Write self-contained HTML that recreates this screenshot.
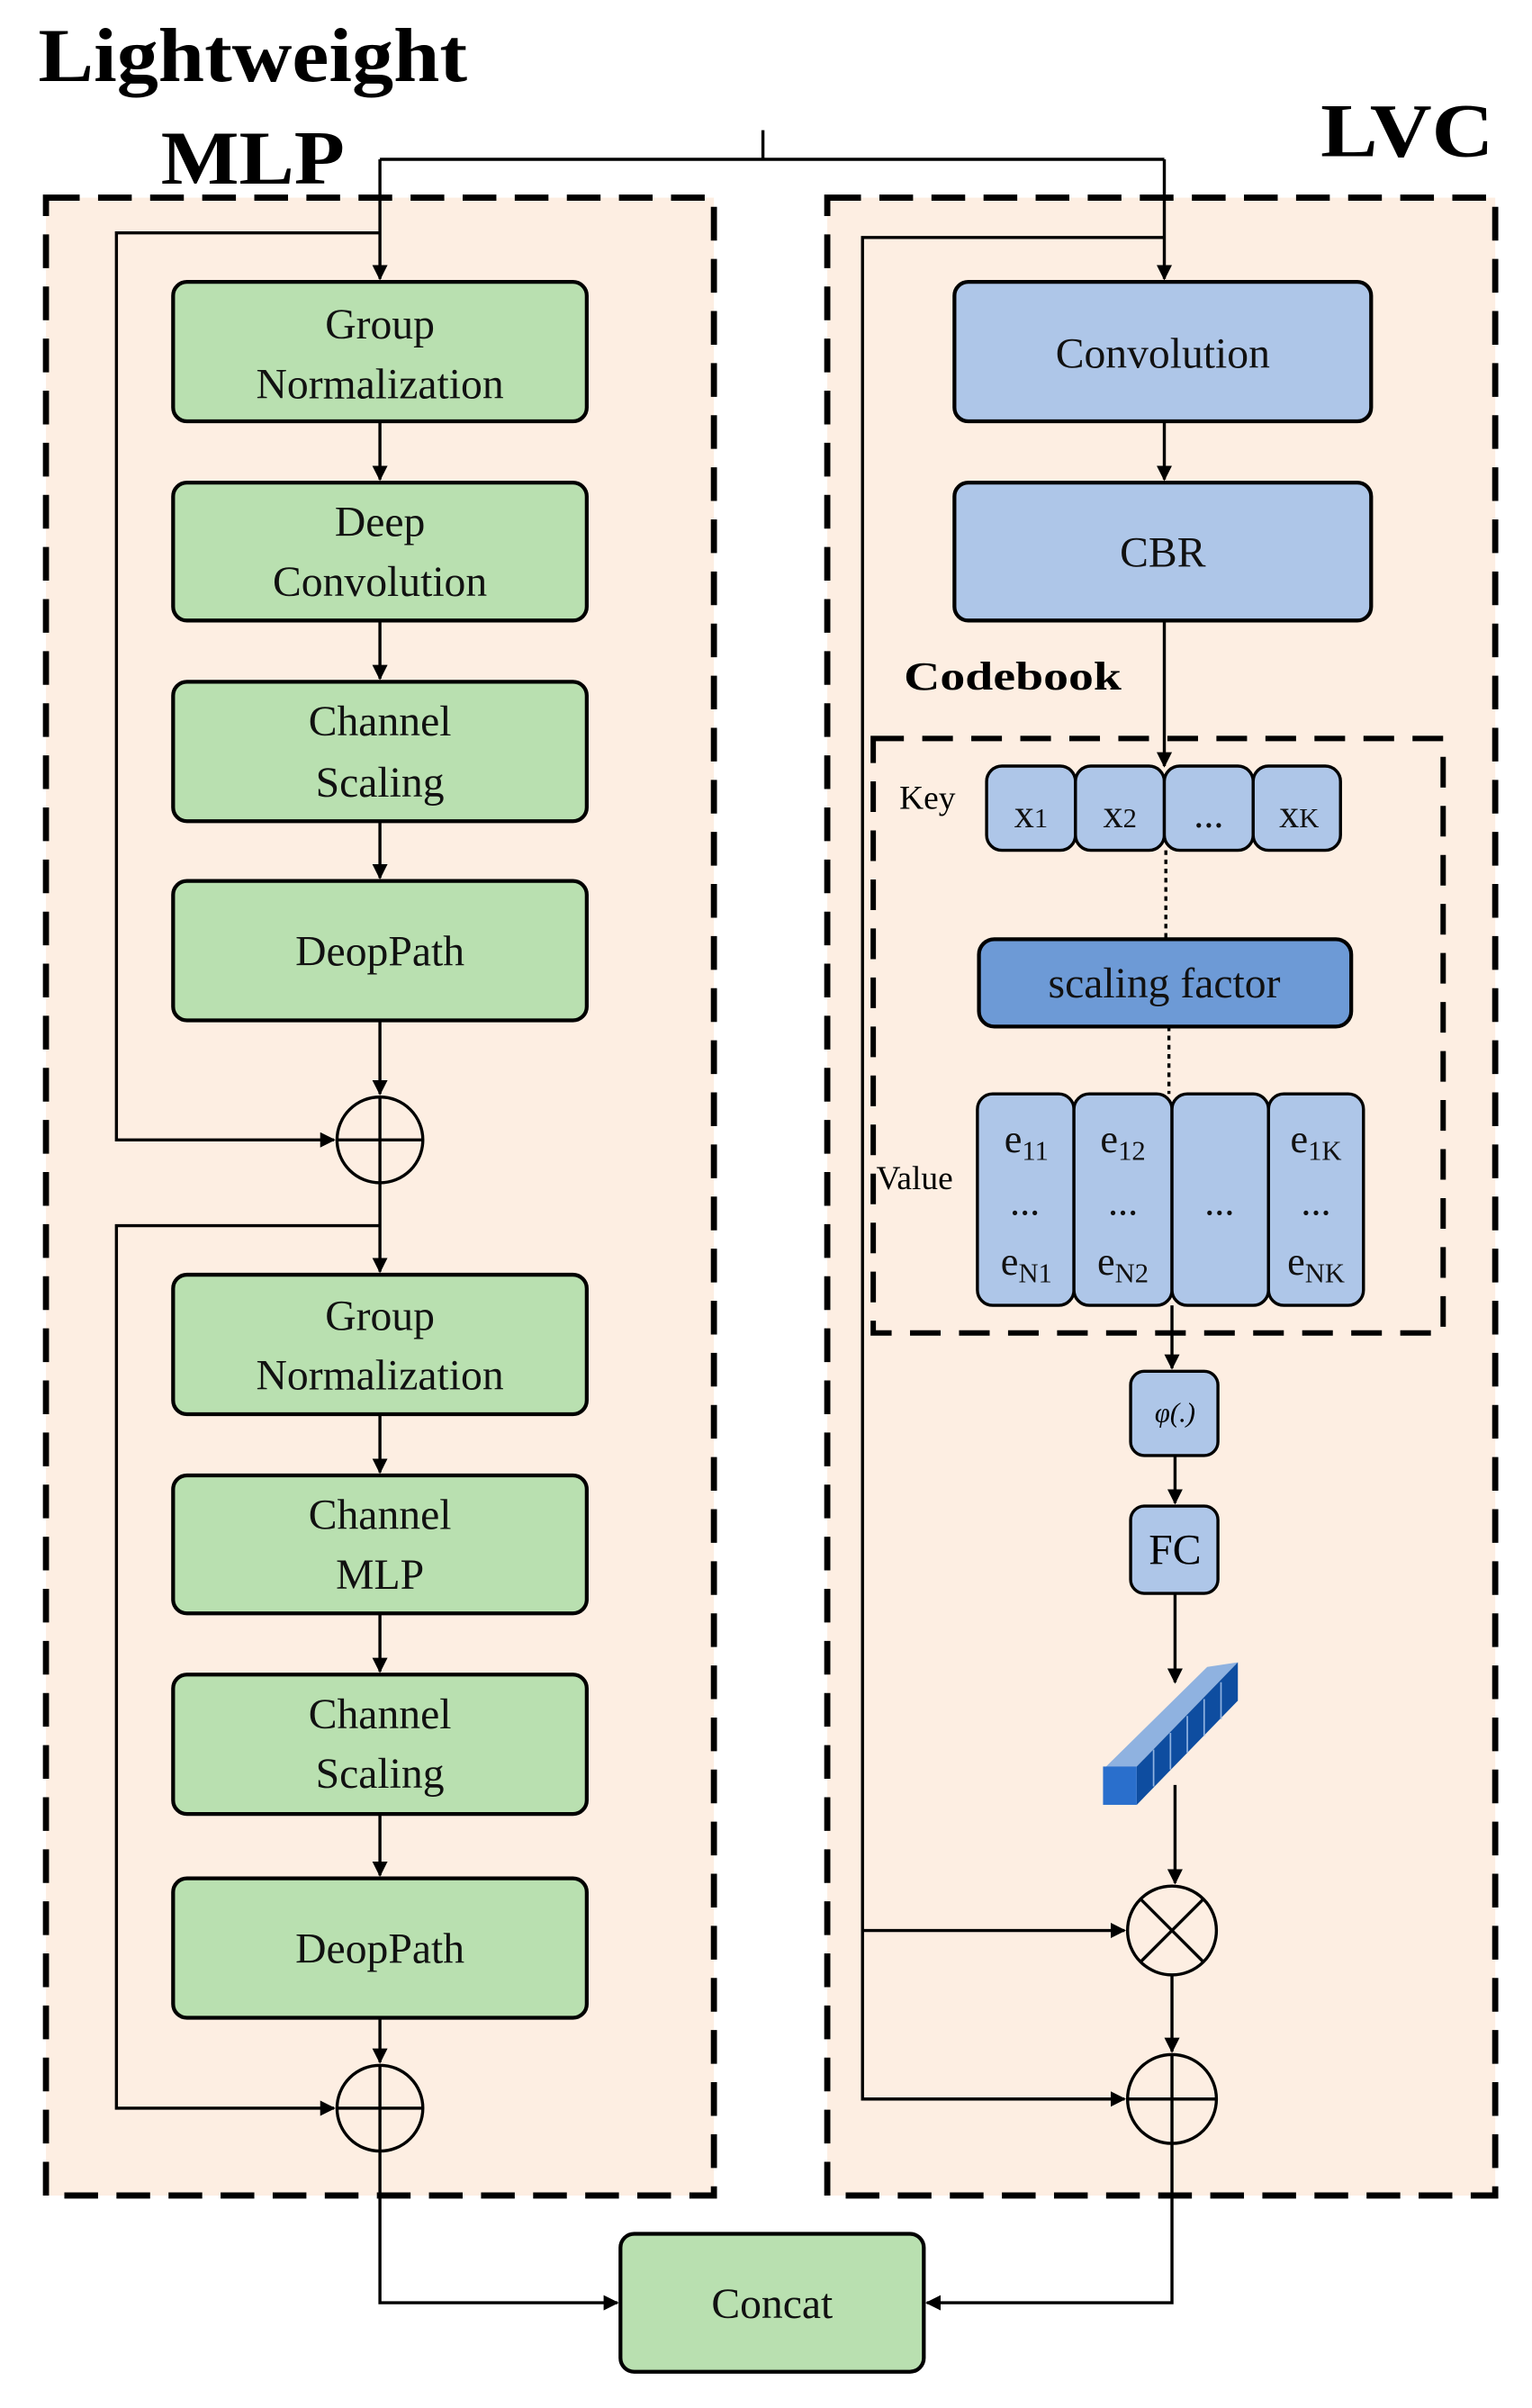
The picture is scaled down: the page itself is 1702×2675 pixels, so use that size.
<!DOCTYPE html>
<html><head><meta charset="utf-8"><style>html,body{margin:0;padding:0;background:#fff}svg{display:block}</style></head>
<body>
<svg width="1702" height="2675" viewBox="0 0 1000 1571.68" xmlns="http://www.w3.org/2000/svg" font-family="'Liberation Serif', serif">
<defs>
<marker id="a" markerWidth="10" markerHeight="10" refX="9" refY="5" orient="auto" markerUnits="userSpaceOnUse"><path d="M0,0 L10,5 L0,10 z" fill="#000"/></marker>
</defs>
<text x="25" y="53" font-size="50" font-weight="bold" textLength="280" lengthAdjust="spacingAndGlyphs">Lightweight</text>
<text x="105" y="120" font-size="50" font-weight="bold" textLength="120" lengthAdjust="spacingAndGlyphs">MLP</text>
<text x="862" y="102" font-size="50" font-weight="bold" textLength="113" lengthAdjust="spacingAndGlyphs">LVC</text>
<rect x="30" y="129" width="436" height="1304" fill="#fdeee2" stroke="#000" stroke-width="4" stroke-dasharray="22,12"/>
<rect x="540" y="129" width="436" height="1304" fill="#fdeee2" stroke="#000" stroke-width="4" stroke-dasharray="22,12"/>
<g fill="none" stroke="#000" stroke-width="2">
<path d="M498,85 V104 M248,104 H760"/>
<path d="M248,104 V182" marker-end="url(#a)"/>
<path d="M760,104 V182" marker-end="url(#a)"/>
<path d="M248,152 H76 V744 H218" marker-end="url(#a)"/>
<path d="M248,800 H76 V1376 H218" marker-end="url(#a)"/>
<path d="M248,275 V313" marker-end="url(#a)"/>
<path d="M248,405 V443" marker-end="url(#a)"/>
<path d="M248,536 V573" marker-end="url(#a)"/>
<path d="M248,666 V714" marker-end="url(#a)"/>
<path d="M248,772 V830" marker-end="url(#a)"/>
<path d="M248,923 V961" marker-end="url(#a)"/>
<path d="M248,1053 V1091" marker-end="url(#a)"/>
<path d="M248,1184 V1224" marker-end="url(#a)"/>
<path d="M248,1317 V1346" marker-end="url(#a)"/>
<path d="M248,1404 V1503 H403" marker-end="url(#a)"/>
<path d="M765,1399 V1503 H605" marker-end="url(#a)"/>
<path d="M760,275 V313" marker-end="url(#a)"/>
<path d="M760,405 V500" marker-end="url(#a)"/>
<path d="M765,852 V893" marker-end="url(#a)"/>
<path d="M767,950 V981" marker-end="url(#a)"/>
<path d="M767,1040 V1098" marker-end="url(#a)"/>
<path d="M767,1165 V1229" marker-end="url(#a)"/>
<path d="M765,1289 V1339" marker-end="url(#a)"/>
<path d="M760,155 H563 V1370 H734" marker-end="url(#a)"/>
<path d="M563,1260 H734" marker-end="url(#a)"/>
</g>
<g stroke="#000" stroke-width="2.5" fill="#b9e0b0">
<rect x="113" y="184" width="270" height="91" rx="9"/>
<rect x="113" y="315" width="270" height="90" rx="9"/>
<rect x="113" y="445" width="270" height="91" rx="9"/>
<rect x="113" y="575" width="270" height="91" rx="9"/>
<rect x="113" y="832" width="270" height="91" rx="9"/>
<rect x="113" y="963" width="270" height="90" rx="9"/>
<rect x="113" y="1093" width="270" height="91" rx="9"/>
<rect x="113" y="1226" width="270" height="91" rx="9"/>
<rect x="405" y="1458" width="198" height="90" rx="9"/>
</g>
<g font-size="28" text-anchor="middle" fill="#111">
<text x="248" y="221">Group</text><text x="248" y="260">Normalization</text>
<text x="248" y="350">Deep</text><text x="248" y="389">Convolution</text>
<text x="248" y="480">Channel</text><text x="248" y="520">Scaling</text>
<text x="248" y="630">DeopPath</text>
<text x="248" y="868">Group</text><text x="248" y="907">Normalization</text>
<text x="248" y="998">Channel</text><text x="248" y="1037">MLP</text>
<text x="248" y="1128">Channel</text><text x="248" y="1167">Scaling</text>
<text x="248" y="1281">DeopPath</text>
<text x="504" y="1513">Concat</text>
</g>
<g fill="none" stroke="#000" stroke-width="2">
<circle cx="248" cy="744" r="28"/><path d="M220,744 H276 M248,716 V772"/>
<circle cx="248" cy="1376" r="28"/><path d="M220,1376 H276 M248,1348 V1404"/>
<circle cx="765" cy="1260" r="29"/><path d="M744,1239 L786,1281 M786,1239 L744,1281"/>
<circle cx="765" cy="1370" r="29"/><path d="M736,1370 H794 M765,1341 V1399"/>
</g>
<g stroke="#000" stroke-width="2.5" fill="#aec6e8">
<rect x="623" y="184" width="272" height="91" rx="9"/>
<rect x="623" y="315" width="272" height="90" rx="9"/>
</g>
<g font-size="28" text-anchor="middle" fill="#111">
<text x="759" y="240">Convolution</text><text x="759" y="370">CBR</text>
</g>
<text x="590" y="450" font-size="26" font-weight="bold" textLength="142" lengthAdjust="spacingAndGlyphs">Codebook</text>
<rect x="570" y="482" width="372" height="388" fill="none" stroke="#000" stroke-width="3.5" stroke-dasharray="20,12"/>
<text x="587" y="528" font-size="22">Key</text>
<text x="572" y="776" font-size="22">Value</text>
<g stroke="#000" stroke-width="2" fill="#aec6e8">
<rect x="644" y="500" width="58" height="55" rx="10"/>
<rect x="702" y="500" width="58" height="55" rx="10"/>
<rect x="760" y="500" width="58" height="55" rx="10"/>
<rect x="818" y="500" width="57" height="55" rx="10"/>
<rect x="638" y="714" width="63" height="138" rx="10"/>
<rect x="701" y="714" width="64" height="138" rx="10"/>
<rect x="765" y="714" width="63" height="138" rx="10"/>
<rect x="828" y="714" width="62" height="138" rx="10"/>
</g>
<rect x="639" y="613" width="243" height="57" rx="10" fill="#6d9ad6" stroke="#000" stroke-width="2.5"/>
<text x="760" y="651" font-size="28" text-anchor="middle" fill="#111">scaling factor</text>
<path d="M761,555 V613 M763,670 V714" stroke="#000" stroke-width="2" stroke-dasharray="3,3"/>
<g font-size="26" fill="#111" text-anchor="middle">
<text x="673" y="540">x<tspan font-size="18">1</tspan></text>
<text x="731" y="540">x<tspan font-size="18">2</tspan></text>
<text x="789" y="540">...</text>
<text x="848" y="540">x<tspan font-size="18">K</tspan></text>
<text x="670" y="752">e<tspan font-size="18" dy="5">11</tspan></text>
<text x="733" y="752">e<tspan font-size="18" dy="5">12</tspan></text>
<text x="859" y="752">e<tspan font-size="18" dy="5">1K</tspan></text>
<text x="669" y="793">...</text><text x="733" y="793">...</text><text x="796" y="793">...</text><text x="859" y="793">...</text>
<text x="670" y="832">e<tspan font-size="18" dy="5">N1</tspan></text>
<text x="733" y="832">e<tspan font-size="18" dy="5">N2</tspan></text>
<text x="859" y="832">e<tspan font-size="18" dy="5">NK</tspan></text>
</g>
<rect x="738" y="895" width="57" height="55" rx="9" fill="#aec6e8" stroke="#000" stroke-width="2"/>
<text x="767" y="928" font-size="18" font-style="italic" text-anchor="middle">φ(.)</text>
<rect x="738" y="983" width="57" height="57" rx="9" fill="#aec6e8" stroke="#000" stroke-width="2"/>
<text x="767" y="1021" font-size="28" text-anchor="middle">FC</text>
<g>
<polygon points="720,1155 788,1088 808,1085 742,1153" fill="#8fb2e0"/>
<polygon points="742,1153 808,1085 808,1110 742,1178" fill="#0e4da0"/>
<rect x="720" y="1153" width="22" height="25" fill="#2a6fcc"/>
<path d="M753,1142 V1166 M764,1131 V1155 M775,1120 V1144 M786,1109 V1133 M797,1098 V1122" stroke="#8fb2e0" stroke-width="1"/>
</g>
</svg>
</body></html>
